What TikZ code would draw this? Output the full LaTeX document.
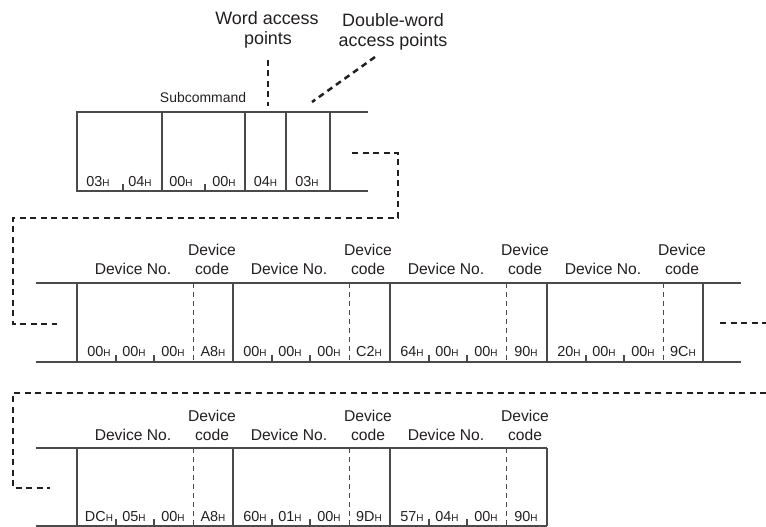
\documentclass[tikz,border=0pt]{standalone}
\usepackage{fontspec}
\setmainfont{Liberation Sans}
\definecolor{linegray}{HTML}{4A4A4A}
\definecolor{ink}{HTML}{231F20}
\newcommand{\hexv}[1]{#1{\fontsize{10}{10}\selectfont H}}
\tikzset{
  frame/.style={draw=linegray,line width=2bp},
  codesep/.style={draw=linegray,line width=1bp,dash pattern=on 4.5bp off 4.5bp},
  link/.style={draw=ink,line width=2.5bp,dash pattern=on 6bp off 4.5bp},
  val/.style={anchor=base,text=ink,inner sep=0pt,font=\fontsize{14.5}{14.5}\selectfont},
  lbl/.style={anchor=base,text=ink,inner sep=0pt,font=\fontsize{15.7}{16}\selectfont},
  callout/.style={anchor=base,text=ink,inner sep=0pt,font=\fontsize{18}{18}\selectfont},
}
\begin{document}
\begin{tikzpicture}[x=1bp,y=-1bp]
 \useasboundingbox (0,0) rectangle (766,527);
 % callouts
 \node[callout] (wap1) at (267,25) {Word access};
 \node[callout] (wap2) at (268,45) {points};
 \node[callout] (dap1) at (393,27) {Double-word};
 \node[callout] (dap2) at (393,47) {access points};
 \coordinate (wtop) at (268,60);
 \coordinate (wbot) at (268,106);
 \coordinate (dtop) at (375,57);
 \coordinate (dbot) at (312,102);
 \draw[link] (wtop)--(wbot);
 \draw[link] (dtop)--(dbot);
 % subcommand frame
 \node[anchor=base,text=ink,inner sep=0pt,font=\fontsize{14}{14}\selectfont] (sub) at (203,102.5) {Subcommand};
 \draw[frame] (368,112)--(77,112)--(77,191)--(368,191);
 \foreach \x in {162,245,286,330} \draw[frame] (\x,112)--(\x,191);
 \draw[frame] (123,191)--(123,184);
 \draw[frame] (205,191)--(205,184);
 \node[val] (s1) at (98,186.5) {\hexv{03}};
 \node[val] (s2) at (140,186.5) {\hexv{04}};
 \node[val] (s3) at (181,186.5) {\hexv{00}};
 \node[val] (s4) at (224,186.5) {\hexv{00}};
 \node[val] (s5) at (265.5,186.5) {\hexv{04}};
 \node[val] (s6) at (307,186.5) {\hexv{03}};
 % continuation to second row
 \coordinate (c1a) at (352,153);
 \coordinate (c1b) at (398,153);
 \coordinate (c1c) at (398,218);
 \coordinate (c1d) at (13,218);
 \coordinate (c1e) at (13,324);
 \coordinate (c1f) at (57,324);
 \draw[link] (c1a)--(c1b)--(c1c)--(c1d)--(c1e)--(c1f);
 % second row
 \draw[frame] (36,283)--(741,283);
 \draw[frame] (36,362)--(741,362);
 \foreach \bx/\a/\b/\c/\d [count=\i] in {77/00/00/00/A8,233/00/00/00/C2,390/64/00/00/90,547/20/00/00/9C}{
   \draw[frame] (\bx,283)--(\bx,362);
   \draw[frame] (\bx+39,362)--(\bx+39,355);
   \draw[frame] (\bx+77,362)--(\bx+77,355);
   \draw[codesep] (\bx+116,283)--(\bx+116,362);
   \node[lbl] (rb\i no) at (\bx+56,275) {Device No.};
   \node[lbl] (rb\i dv) at (\bx+135,256) {Device};
   \node[lbl] (rb\i cd) at (\bx+135,275) {code};
   \node[val] (rb\i a) at (\bx+22,356.5) {\hexv{\a}};
   \node[val] (rb\i b) at (\bx+57,356.5) {\hexv{\b}};
   \node[val] (rb\i c) at (\bx+96,356.5) {\hexv{\c}};
   \node[val] (rb\i d) at (\bx+136,356.5) {\hexv{\d}};
 }
 \draw[frame] (703,283)--(703,362);
 \coordinate (c2a) at (720,323);
 \coordinate (c2b) at (766,323);
 \draw[link] (c2a)--(c2b);
 % continuation to third row
 \coordinate (c3a) at (766,393);
 \coordinate (c3b) at (13,393);
 \coordinate (c3c) at (13,488);
 \coordinate (c3d) at (50,488);
 \draw[link] (c3a)--(c3b)--(c3c)--(c3d);
 % third row
 \draw[frame] (36,448)--(547,448);
 \draw[frame] (36,526)--(547,526);
 \foreach \bx/\a/\b/\c/\d [count=\i] in {77/DC/05/00/A8,233/60/01/00/9D,390/57/04/00/90}{
   \draw[frame] (\bx,448)--(\bx,526);
   \draw[frame] (\bx+39,526)--(\bx+39,519);
   \draw[frame] (\bx+77,526)--(\bx+77,519);
   \draw[codesep] (\bx+116,448)--(\bx+116,526);
   \node[lbl] (rc\i no) at (\bx+56,440) {Device No.};
   \node[lbl] (rc\i dv) at (\bx+135,421) {Device};
   \node[lbl] (rc\i cd) at (\bx+135,440) {code};
   \node[val] (rc\i a) at (\bx+22,521) {\hexv{\a}};
   \node[val] (rc\i b) at (\bx+57,521) {\hexv{\b}};
   \node[val] (rc\i c) at (\bx+96,521) {\hexv{\c}};
   \node[val] (rc\i d) at (\bx+136,521) {\hexv{\d}};
 }
 \draw[frame] (547,448)--(547,526);
\end{tikzpicture}
\end{document}
